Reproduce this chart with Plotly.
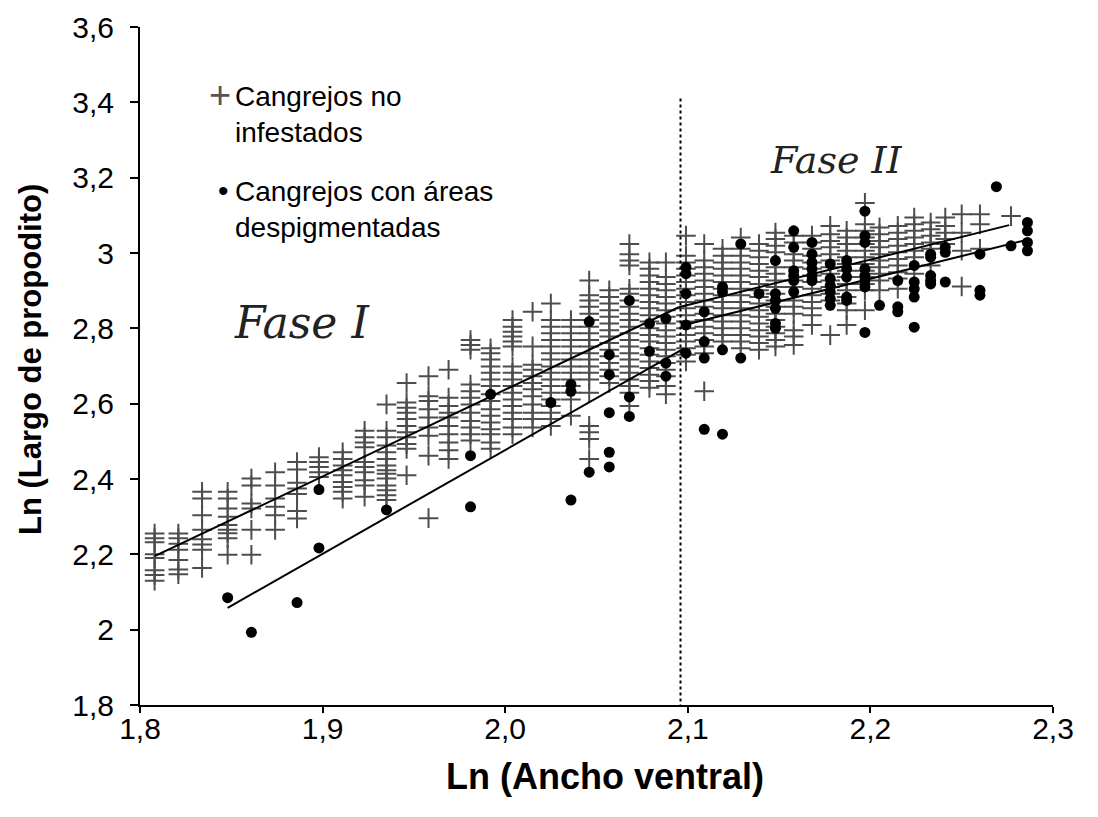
import plotly.graph_objects as go

# ---- Data ----
# Non-infested crabs ("+"), grouped by ln(ventral width) column
plus_col_x = [1.808, 1.821, 1.834, 1.848, 1.861, 1.874, 1.886, 1.898, 1.911, 1.923,
              1.935, 1.946, 1.958, 1.969, 1.981, 1.992, 2.004, 2.015, 2.025, 2.036,
              2.046, 2.057, 2.068, 2.079, 2.088, 2.099, 2.109, 2.119, 2.129, 2.139,
              2.148, 2.158, 2.168, 2.178, 2.187, 2.197, 2.205, 2.215, 2.224, 2.233,
              2.241, 2.250, 2.260, 2.277]
plus_col_y = [
    [2.255, 2.243, 2.232, 2.200, 2.190, 2.158, 2.145, 2.130],
    [2.255, 2.243, 2.228, 2.212, 2.185, 2.160, 2.147],
    [2.366, 2.348, 2.304, 2.265, 2.240, 2.226, 2.212, 2.164],
    [2.366, 2.348, 2.322, 2.300, 2.278, 2.265, 2.256, 2.243, 2.199],
    [2.401, 2.383, 2.335, 2.322, 2.265, 2.199],
    [2.418, 2.383, 2.348, 2.326, 2.304, 2.265],
    [2.445, 2.425, 2.390, 2.375, 2.360, 2.315, 2.295],
    [2.458, 2.445, 2.432, 2.418, 2.405],
    [2.471, 2.453, 2.436, 2.423, 2.410, 2.392, 2.379, 2.366, 2.348],
    [2.528, 2.511, 2.497, 2.484, 2.445, 2.432, 2.418, 2.397, 2.383, 2.353],
    [2.598, 2.528, 2.511, 2.489, 2.471, 2.453, 2.436, 2.423, 2.414, 2.401, 2.383, 2.370, 2.357, 2.344],
    [2.655, 2.603, 2.589, 2.576, 2.559, 2.541, 2.524, 2.511, 2.493, 2.480, 2.410],
    [2.673, 2.620, 2.607, 2.585, 2.563, 2.537, 2.515, 2.462, 2.296],
    [2.690, 2.616, 2.594, 2.576, 2.563, 2.541, 2.519, 2.497, 2.476, 2.453],
    [2.769, 2.756, 2.743, 2.651, 2.633, 2.616, 2.598, 2.576, 2.554, 2.537, 2.519, 2.502],
    [2.747, 2.734, 2.717, 2.699, 2.682, 2.664, 2.647, 2.625, 2.607, 2.585, 2.568, 2.550, 2.532, 2.519, 2.497, 2.480],
    [2.822, 2.804, 2.791, 2.778, 2.765, 2.752, 2.699, 2.682, 2.664, 2.647, 2.629, 2.611, 2.594, 2.576, 2.559, 2.537, 2.519],
    [2.844, 2.752, 2.703, 2.690, 2.673, 2.655, 2.638, 2.620, 2.598, 2.576, 2.559, 2.537],
    [2.866, 2.822, 2.804, 2.787, 2.769, 2.752, 2.734, 2.717, 2.699, 2.682, 2.664, 2.647, 2.629, 2.611, 2.594, 2.576, 2.559, 2.541],
    [2.822, 2.804, 2.787, 2.769, 2.752, 2.734, 2.717, 2.699, 2.682, 2.664, 2.647, 2.629, 2.611, 2.568],
    [2.927, 2.888, 2.874, 2.857, 2.839, 2.822, 2.804, 2.787, 2.769, 2.752, 2.734, 2.717, 2.699, 2.682, 2.664, 2.629, 2.541, 2.524, 2.506, 2.453],
    [2.901, 2.883, 2.866, 2.848, 2.831, 2.813, 2.795, 2.778, 2.761, 2.743, 2.726, 2.708, 2.690, 2.673, 2.655],
    [3.024, 2.997, 2.980, 2.967, 2.905, 2.892, 2.874, 2.857, 2.839, 2.822, 2.804, 2.787, 2.769, 2.752, 2.734, 2.717, 2.699, 2.682, 2.664, 2.647, 2.629, 2.594],
    [2.975, 2.958, 2.940, 2.923, 2.905, 2.888, 2.870, 2.853, 2.835, 2.818, 2.800, 2.782, 2.765, 2.747, 2.730, 2.712, 2.695, 2.677, 2.660, 2.642],
    [2.975, 2.936, 2.918, 2.901, 2.883, 2.866, 2.848, 2.831, 2.813, 2.795, 2.778, 2.761, 2.743, 2.726, 2.708, 2.690, 2.673, 2.647, 2.625],
    [3.046, 2.993, 2.975, 2.958, 2.940, 2.923, 2.905, 2.888, 2.870, 2.853, 2.835, 2.818, 2.800, 2.782, 2.765, 2.747, 2.730, 2.712],
    [3.024, 2.980, 2.962, 2.945, 2.927, 2.910, 2.892, 2.874, 2.857, 2.839, 2.822, 2.804, 2.787, 2.769, 2.752, 2.734, 2.633],
    [3.011, 2.993, 2.975, 2.958, 2.940, 2.923, 2.905, 2.888, 2.870, 2.853, 2.835, 2.818, 2.800, 2.782, 2.765],
    [3.041, 3.011, 2.993, 2.975, 2.958, 2.940, 2.923, 2.905, 2.888, 2.870, 2.853, 2.835, 2.818, 2.800, 2.782, 2.765, 2.747],
    [3.024, 3.006, 2.989, 2.971, 2.953, 2.936, 2.918, 2.901, 2.883, 2.866, 2.848, 2.831, 2.813, 2.795, 2.778, 2.761, 2.743],
    [3.054, 3.037, 3.019, 3.002, 2.962, 2.945, 2.927, 2.910, 2.892, 2.874, 2.857, 2.839, 2.822, 2.804, 2.787, 2.769, 2.752],
    [3.046, 3.028, 2.997, 2.980, 2.962, 2.927, 2.910, 2.874, 2.857, 2.839, 2.795, 2.778, 2.756],
    [3.046, 3.028, 3.011, 2.993, 2.975, 2.958, 2.940, 2.923, 2.905, 2.888, 2.870, 2.853, 2.835, 2.809],
    [3.072, 3.050, 3.032, 3.015, 2.997, 2.980, 2.962, 2.945, 2.927, 2.910, 2.892, 2.874, 2.782],
    [3.059, 3.041, 3.024, 3.006, 2.989, 2.971, 2.953, 2.936, 2.918, 2.901, 2.883, 2.866, 2.848, 2.809],
    [3.133, 3.076, 3.059, 3.041, 3.024, 3.006, 2.989, 2.971, 2.953, 2.936, 2.918, 2.901, 2.848],
    [3.068, 3.050, 3.032, 3.015, 2.997, 2.980, 2.962, 2.945, 2.927, 2.901],
    [3.072, 3.054, 3.037, 3.019, 3.002, 2.984, 2.967, 2.949, 2.932, 2.905],
    [3.094, 3.076, 3.059, 3.041, 3.024, 3.006, 2.989, 2.945],
    [3.081, 3.063, 3.046, 3.028, 3.011, 2.967],
    [3.094, 3.072, 3.054, 3.037, 3.024],
    [3.103, 3.054, 3.006, 2.911],
    [3.103, 3.076, 3.011],
    [3.098],
]

# Crabs with depigmented areas (black dots)
dot_col_x = [1.848, 1.861, 1.886, 1.898, 1.935, 1.981, 1.992, 2.025, 2.036, 2.046,
             2.057, 2.068, 2.079, 2.088, 2.099, 2.109, 2.119, 2.129, 2.139, 2.148,
             2.158, 2.168, 2.178, 2.187, 2.197, 2.205, 2.215, 2.224, 2.233, 2.241,
             2.260, 2.269, 2.277, 2.286]
dot_col_y = [
    [2.085], [1.993], [2.072], [2.372, 2.217], [2.318], [2.462, 2.326], [2.625], [2.603],
    [2.651, 2.633, 2.344], [2.818, 2.418], [2.730, 2.677, 2.576, 2.471, 2.432],
    [2.874, 2.618, 2.566], [2.813, 2.739], [2.826, 2.708, 2.673],
    [2.962, 2.945, 2.892, 2.809, 2.734], [2.844, 2.765, 2.721, 2.532],
    [2.910, 2.897, 2.743, 2.519], [3.024, 2.721], [2.892],
    [2.980, 2.892, 2.874, 2.853, 2.813, 2.800],
    [3.059, 3.015, 2.953, 2.940, 2.927, 2.897],
    [3.028, 2.997, 2.975, 2.958, 2.940, 2.927],
    [2.971, 2.932, 2.914, 2.897, 2.879, 2.861],
    [2.980, 2.958, 2.936, 2.883, 2.874],
    [3.111, 3.046, 3.028, 2.958, 2.940, 2.927, 2.910, 2.789],
    [2.861], [2.927, 2.857, 2.844], [2.967, 2.923, 2.905, 2.883, 2.803],
    [2.997, 2.989, 2.940, 2.927, 2.918], [3.015, 3.002, 2.923],
    [2.997, 2.901, 2.888], [3.176], [3.019], [3.081, 3.059, 3.028, 3.006],
]

# Fitted lines (endpoints)
fit_noinf_f1_x = [1.808, 2.095]
fit_noinf_f1_y = [2.195, 2.856]
fit_noinf_f2_x = [2.095, 2.276]
fit_noinf_f2_y = [2.856, 3.074]
fit_desp_f1_x = [1.848, 2.098]
fit_desp_f1_y = [2.058, 2.747]
fit_desp_f2_x = [2.098, 2.285]
fit_desp_f2_y = [2.809, 3.034]

# Phase break (dotted line)
break_x = [2.096, 2.096]
break_y = [3.41, 1.8]

x_tickvals = [1.8, 1.9, 2.0, 2.1, 2.2, 2.3]
x_ticktext = ["1,8", "1,9", "2,0", "2,1", "2,2", "2,3"]
y_tickvals = [1.8, 2.0, 2.2, 2.4, 2.6, 2.8, 3.0, 3.2, 3.4, 3.6]
y_ticktext = ["1,8", "2", "2,2", "2,4", "2,6", "2,8", "3", "3,2", "3,4", "3,6"]

legend_text_1 = "Cangrejos no<br>infestados"
legend_text_2 = "Cangrejos con áreas<br>despigmentadas"
x_title = "Ln (Ancho ventral)"
y_title = "Ln (Largo de propodito)"

# ---- Build flat arrays ----
plus_x, plus_y = [], []
for cx, ys in zip(plus_col_x, plus_col_y):
    plus_x += [cx] * len(ys)
    plus_y += ys
dot_x, dot_y = [], []
for cx, ys in zip(dot_col_x, dot_col_y):
    dot_x += [cx] * len(ys)
    dot_y += ys

FONT = "Liberation Sans, Arial, sans-serif"

fig = go.Figure()
fig.add_trace(go.Scatter(
    x=plus_x, y=plus_y, mode="markers", showlegend=False,
    marker=dict(symbol="cross-thin", size=14, color="#4d4d4d",
                line=dict(width=2, color="#4d4d4d"))))
fig.add_trace(go.Scatter(
    x=break_x, y=break_y, mode="lines", showlegend=False,
    line=dict(color="black", width=2, dash="dot")))
for lx, ly in [(fit_noinf_f1_x, fit_noinf_f1_y), (fit_noinf_f2_x, fit_noinf_f2_y),
               (fit_desp_f1_x, fit_desp_f1_y), (fit_desp_f2_x, fit_desp_f2_y)]:
    fig.add_trace(go.Scatter(x=lx, y=ly, mode="lines", showlegend=False,
                             line=dict(color="black", width=2)))
fig.add_trace(go.Scatter(
    x=dot_x, y=dot_y, mode="markers", showlegend=False,
    marker=dict(symbol="circle", size=11, color="black")))

# page has an 8px body margin; plot area targets page px 140..1053 x 27..705
OFF = 8
W, H = 1098, 817
PL, PT, PR, PB = 140, 27, 1053, 705
L, T = PL - OFF, PT - OFF
R = W + OFF - PR
B = H + OFF - PB
pw, ph = PR - PL, PB - PT


def px(xp):
    return (xp - PL) / pw


def py(yp):
    return (PB - yp) / ph


LEG = dict(family=FONT, size=28, color="black")
annotations = [
    dict(x=px(220), y=py(95), text="+", font=dict(family=FONT, size=38, color="#555555")),
    dict(x=px(223), y=py(190), text="•", font=dict(family=FONT, size=30, color="black")),
    dict(x=px(233), y=py(79), text=legend_text_1, xanchor="left", yanchor="top",
         align="left", font=LEG),
    dict(x=px(233), y=py(174), text=legend_text_2, xanchor="left", yanchor="top",
         align="left", font=LEG),
    dict(x=px(302), y=py(322), text="<i>Fase I</i>",
         font=dict(family="DejaVu Serif, serif", size=44, color="#222222")),
    dict(x=px(836), y=py(160), text="<i>Fase II</i>",
         font=dict(family="DejaVu Serif, serif", size=38, color="#222222")),
    dict(x=px(605), y=py(776), text="<b>" + x_title + "</b>",
         font=dict(family=FONT, size=36, color="black")),
    dict(x=px(30), y=py(360), text="<b>" + y_title + "</b>", textangle=-90,
         font=dict(family=FONT, size=31, color="black")),
]
for a in annotations:
    a.update(xref="paper", yref="paper", showarrow=False)
    a.setdefault("xanchor", "center")
    a.setdefault("yanchor", "middle")

fig.update_layout(
    width=W, height=H,
    margin=dict(l=L, r=R, t=T, b=B, autoexpand=False),
    plot_bgcolor="white", paper_bgcolor="white",
    annotations=annotations,
    font=dict(family=FONT, color="black"),
)
fig.update_xaxes(range=[1.8, 2.3], tickvals=x_tickvals, ticktext=x_ticktext,
                 showline=True, linecolor="black", linewidth=2, ticks="outside",
                 ticklen=6, tickwidth=2, tickcolor="black", showgrid=False, zeroline=False,
                 automargin=False, ticklabelstandoff=-10, ticklabeloverflow="allow",
                 tickfont=dict(family=FONT, size=30, color="black"))
fig.update_yaxes(range=[1.8, 3.6], tickvals=y_tickvals, ticktext=y_ticktext,
                 showline=True, linecolor="black", linewidth=2, ticks="outside",
                 ticklen=8, tickwidth=2, tickcolor="black", showgrid=False, zeroline=False,
                 automargin=False, ticklabelstandoff=10, ticklabeloverflow="allow",
                 tickfont=dict(family=FONT, size=30, color="black"))

fig.write_html("out.html")
